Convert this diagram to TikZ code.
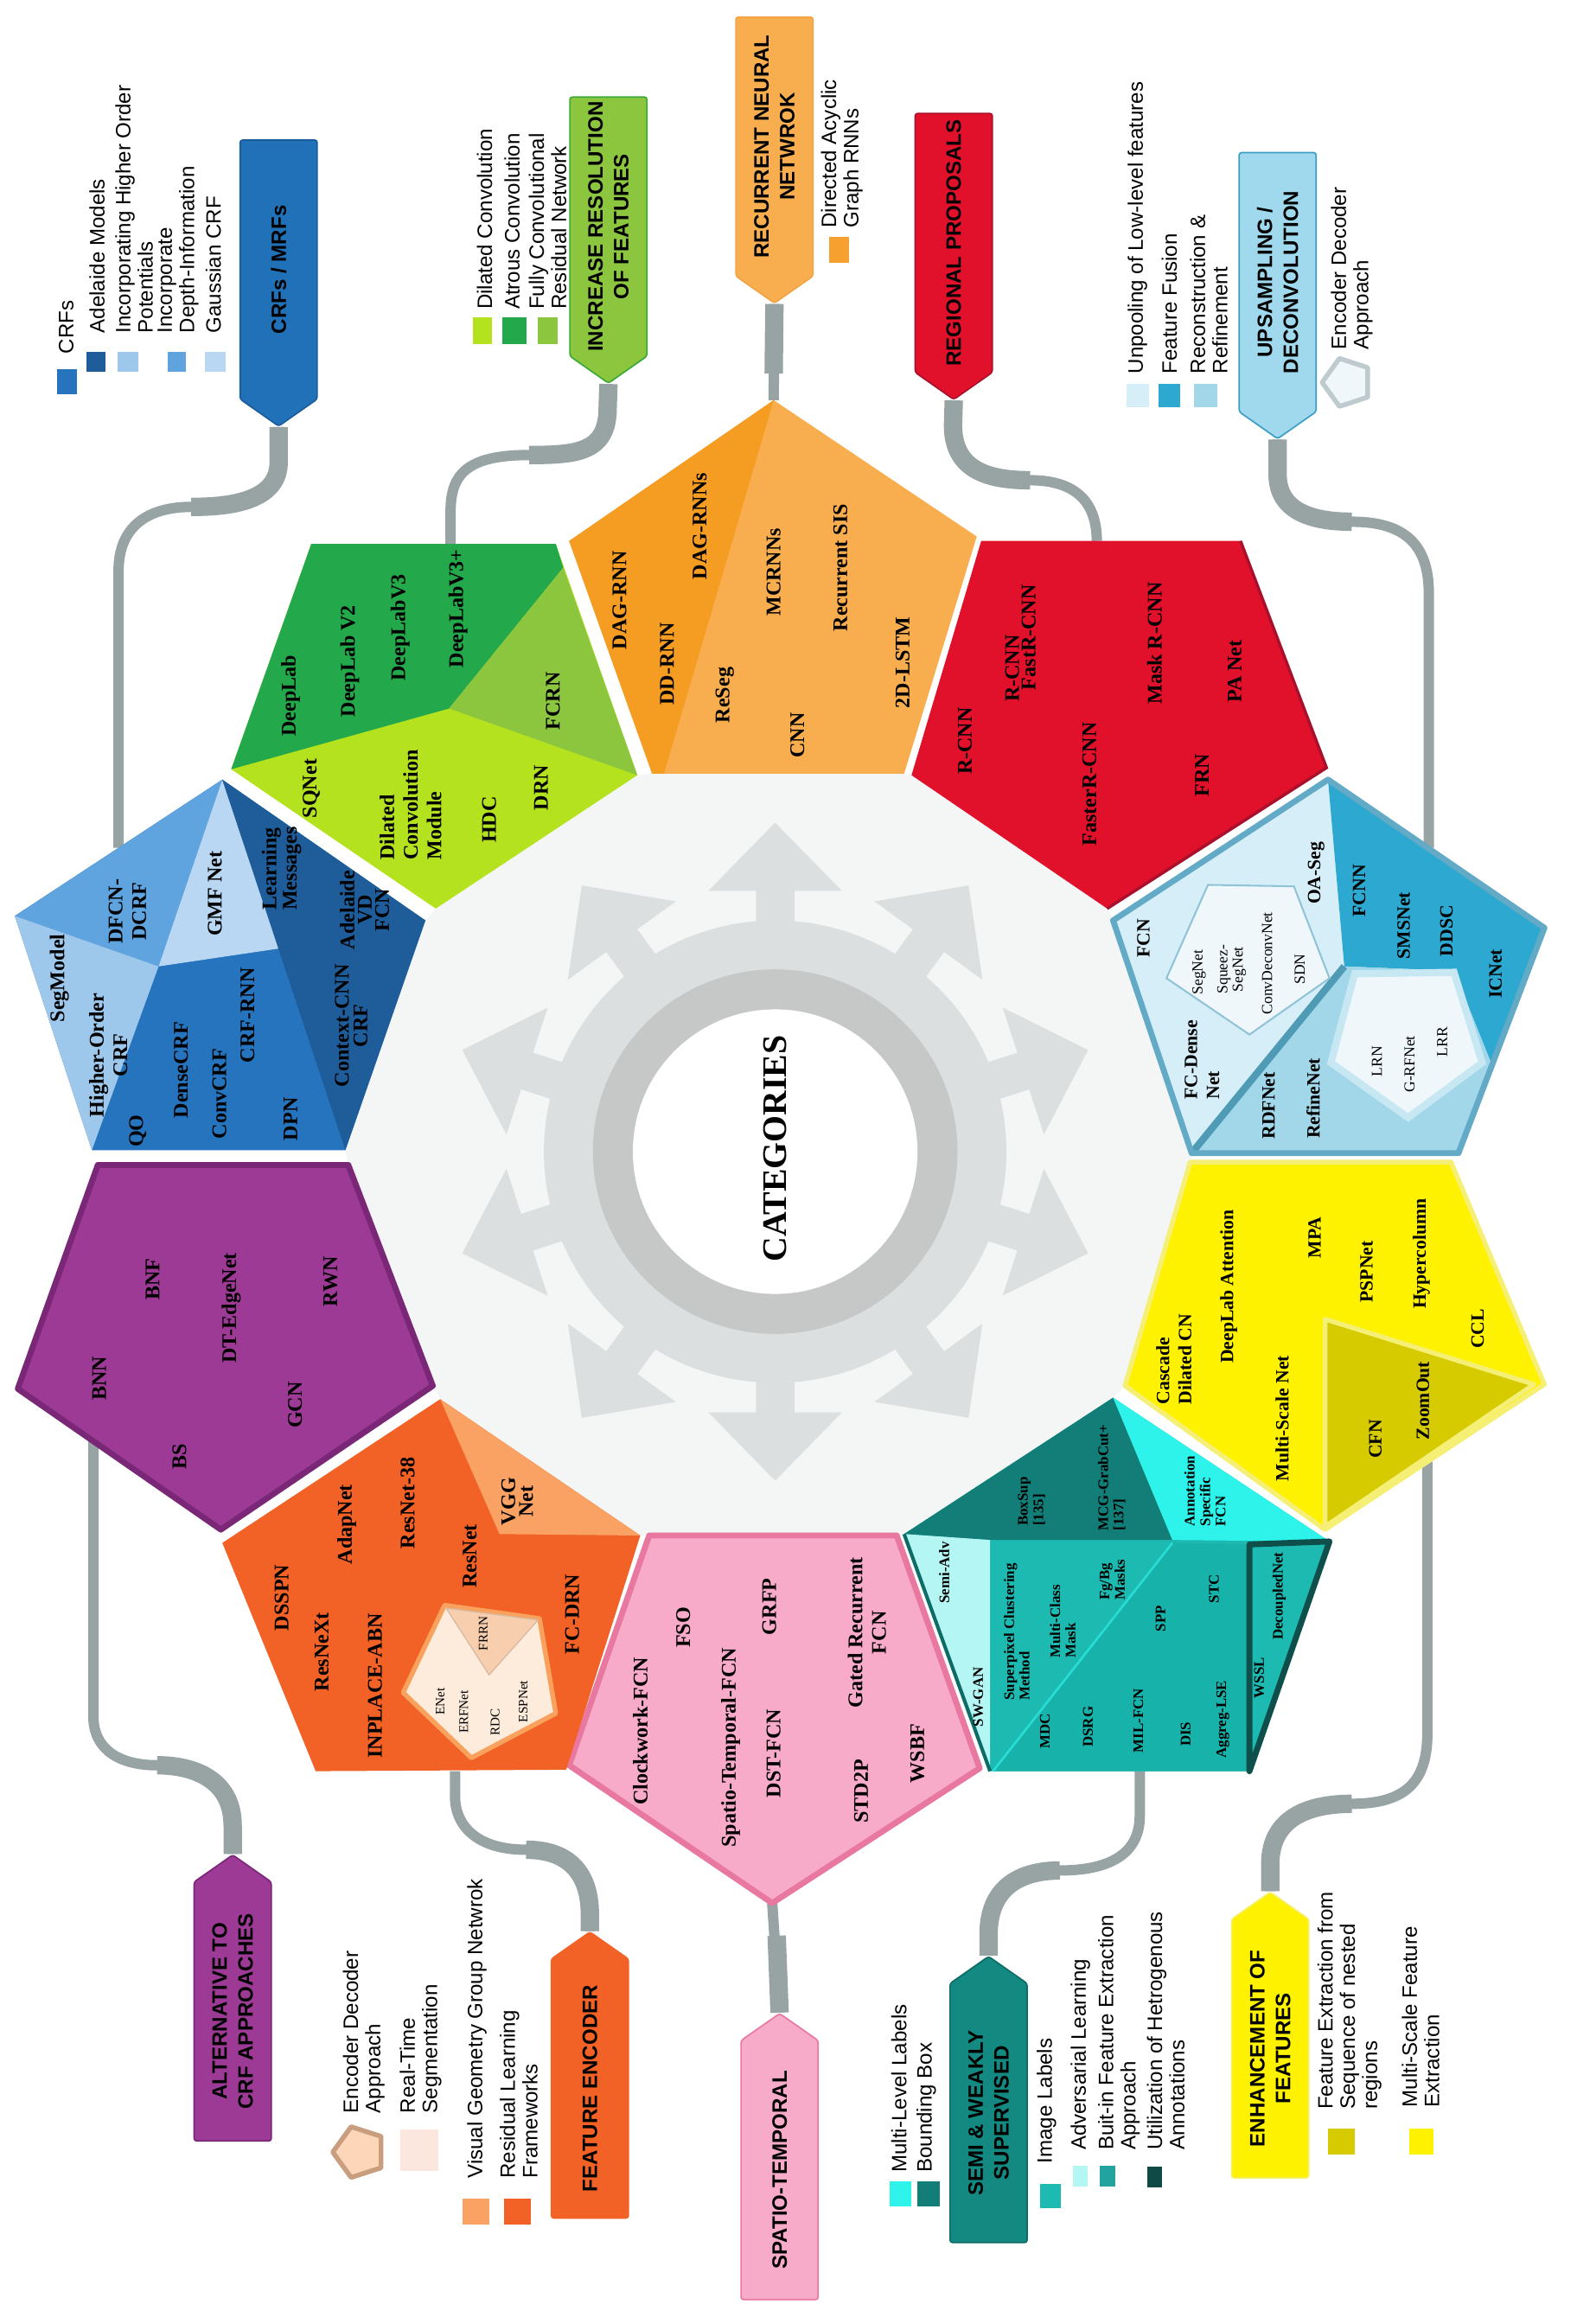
\documentclass[tikz,border=0pt]{standalone}
\usepackage{fontspec}
\setmainfont{Liberation Serif}
\newfontfamily\hsans{Liberation Sans}
\usetikzlibrary{shapes.symbols}

\definecolor{bggrey}{HTML}{F4F5F5}
\definecolor{gearlt}{HTML}{DCDFE0}
\definecolor{gearmd}{HTML}{C6C7C7}
\definecolor{wiregrey}{HTML}{98A3A4}
\definecolor{crfmid}{HTML}{2574BD}
\definecolor{crfdark}{HTML}{1E5D9A}
\definecolor{crftop}{HTML}{5FA3DF}
\definecolor{crfgmf}{HTML}{B9D7F2}
\definecolor{crfleft}{HTML}{9EC7EC}
\definecolor{crfhdr}{HTML}{2171B8}
\definecolor{crfhdrdk}{HTML}{1A5C9C}
\definecolor{grlime}{HTML}{B5E21F}
\definecolor{grdark}{HTML}{23A94B}
\definecolor{grmid}{HTML}{8CC63F}
\definecolor{grhdrdk}{HTML}{3AA935}
\definecolor{rnnlt}{HTML}{F8AE4E}
\definecolor{rnndk}{HTML}{F59C22}
\definecolor{rnnhdrdk}{HTML}{F2A445}
\definecolor{regred}{HTML}{E2112B}
\definecolor{regdk}{HTML}{A8102C}
\definecolor{upsl}{HTML}{D6EEF8}
\definecolor{upsd}{HTML}{2DA8D0}
\definecolor{upsm}{HTML}{A2D7EA}
\definecolor{upsin}{HTML}{EFF7FB}
\definecolor{upsbd}{HTML}{62AAC5}
\definecolor{upsline}{HTML}{4F9BB6}
\definecolor{upshdr}{HTML}{A0D9EE}
\definecolor{upshdrdk}{HTML}{3C9DC4}
\definecolor{enhy}{HTML}{FFF200}
\definecolor{enhdk}{HTML}{D6CB00}
\definecolor{enhbd}{HTML}{F5EF75}
\definecolor{semimain}{HTML}{1CBAB1}
\definecolor{semilow}{HTML}{17B2AA}
\definecolor{semidk}{HTML}{137D77}
\definecolor{semicy}{HTML}{2EF3EA}
\definecolor{semilt}{HTML}{B4F6F4}
\definecolor{semiline}{HTML}{0E4F4B}
\definecolor{semihdr}{HTML}{148981}
\definecolor{semihdrdk}{HTML}{0D6C66}
\definecolor{semibi}{HTML}{22A39F}
\definecolor{semiut}{HTML}{0F4A47}
\definecolor{spapink}{HTML}{F8AAC9}
\definecolor{spabd}{HTML}{E8789F}
\definecolor{femain}{HTML}{F26125}
\definecolor{felt}{HTML}{F9A263}
\definecolor{fein}{HTML}{FDEBDC}
\definecolor{feinbd}{HTML}{F8A25E}
\definecolor{fefrrn}{HTML}{F8CFAE}
\definecolor{fepale}{HTML}{FBE7DD}
\definecolor{feicon}{HTML}{FDD6BA}
\definecolor{feiconbd}{HTML}{C99E7E}
\definecolor{altp}{HTML}{9C3A95}
\definecolor{altbd}{HTML}{7A2777}

\tikzset{
  lbl/.style={rotate=90, inner sep=0pt, align=center,
    font=\bfseries\fontsize{10}{11.3}\selectfont},
  lbm/.style={lbl, font=\bfseries\fontsize{9}{10.6}\selectfont},
  lbt/.style={lbl, font=\bfseries\fontsize{7}{7.4}\selectfont},
  lbi/.style={lbl, font=\fontsize{7.3}{7.4}\selectfont},
  lbs/.style={lbl, font=\fontsize{6.3}{7}\selectfont},
  lgd/.style={rotate=90, anchor=west, inner sep=0pt, align=left,
    font=\hsans\fontsize{10}{10.7}\selectfont},
  hdr/.style={signal, rotate=90, line width=0.7pt, inner xsep=0pt, inner ysep=1pt,
    align=center, minimum width=48.25mm, minimum height=13mm,
    signal pointer angle=110, rounded corners=1.2pt,
    font=\hsans\bfseries\fontsize{10}{12.4}\selectfont},
  wire/.style={draw=wiregrey, line width=1.75mm},
  wirestub/.style={draw=wiregrey, line width=3.1mm},
}

\begin{document}
\begin{tikzpicture}[x=0.25mm, y=-0.25mm]
\useasboundingbox (0,0) rectangle (1064,1568);
\fill[white] (0,0) rectangle (1064,1568);

% centre of the wheel
\fill[bggrey] (440,522) -- (430,523) -- (294,613) -- (287,621) -- (233,776) -- (235,786)
  -- (292,935) -- (297,944) -- (432,1036) -- (438,1036) -- (605,1036) -- (610,1035)
  -- (751,943) -- (759,935) -- (803,784) -- (804,778) -- (751,621) -- (747,613)
  -- (615,523) -- (610,522) -- cycle;
\begin{scope}[shift={(523,777)}]
\foreach \a in {18,54,...,342}
  \fill[gearlt, rotate=\a] (140,-13) -- (176,-13) -- (176,-45) -- (222,0)
    -- (176,45) -- (176,13) -- (140,13) -- cycle;
\fill[gearlt] (0,0) circle (156);
\fill[gearmd] (0,0) circle (123);
\fill[white] (0,0) circle (96);
\end{scope}
\node[rotate=90, font=\bfseries\fontsize{16.5}{18}\selectfont] (cat) at (523,775) {CATEGORIES};

% headers
\node[hdr, signal to=west, anchor=east, fill=crfhdr, draw=crfhdrdk] (hcrf) at (188,94) {CRFs / MRFs};
\node[hdr, signal to=west, anchor=east, fill=grmid, draw=grhdrdk] (hinc) at (410.5,65) {INCREASE RESOLUTION\\OF FEATURES};
\node[hdr, signal to=west, anchor=east, fill=rnnlt, draw=rnnhdrdk] (hrnn) at (522.5,11) {RECURRENT NEURAL\\NETWROK};
\node[hdr, signal to=west, anchor=east, fill=regred, draw=regdk] (hreg) at (643.5,76) {REGIONAL PROPOSALS};
\node[hdr, signal to=west, anchor=east, fill=upshdr, draw=upshdrdk] (hups) at (862,102.5) {UPSAMPLING /\\DECONVOLUTION};
\node[hdr, signal to=east, anchor=west, fill=enhy, draw=enhbd] (henh) at (857,1470) {ENHANCEMENT OF\\FEATURES};
\node[hdr, signal to=east, anchor=west, fill=semihdr, draw=semihdrdk] (hsemi) at (667,1513.5) {SEMI \& WEAKLY\\SUPERVISED};
\node[hdr, signal to=east, anchor=west, fill=spapink, draw=spabd] (hspa) at (526,1552) {SPATIO-TEMPORAL};
\node[hdr, signal to=east, anchor=west, fill=femain, draw=femain] (hfe) at (398,1497) {FEATURE ENCODER};
\node[hdr, signal to=east, anchor=west, fill=altp, draw=altbd] (halt) at (157,1445) {ALTERNATIVE TO\\CRF APPROACHES};

% connectors
\coordinate (pcrf) at (80,572);
\coordinate (pinc) at (304,367);
\coordinate (prnn) at (522,270);
\coordinate (preg) at (740,365);
\coordinate (pups) at (964,572);
\coordinate (penh) at (963,986);
\coordinate (psemi) at (769,1195);
\coordinate (pspa) at (521,1284);
\coordinate (pfe) at (307,1195);
\coordinate (palt) at (63,972);
\draw[wire] (hcrf.west) -- (188,312) .. controls (188,340) and (150,342) .. (129,342)
  .. controls (100,342) and (80,355) .. (80,385) -- (pcrf);
\draw[wirestub] (hcrf.west) -- (188,312) .. controls (188,340) and (150,342) .. (129,342);
\draw[wire] (hinc.west) -- (410,275) .. controls (410,305) and (390,307) .. (357,307)
  .. controls (315,307) and (304,320) .. (304,345) -- (pinc);
\draw[wirestub] (hinc.west) -- (410,275) .. controls (410,305) and (390,307) .. (357,307);
\draw[wire] (hrnn.west) -- (prnn);
\draw[wirestub] (hrnn.west) -- (522,252);
\draw[wire] (hreg.west) -- (643,287) .. controls (643,318) and (668,324) .. (695,324)
  .. controls (725,324) and (740,338) .. (preg);
\draw[wirestub] (hreg.west) -- (643,287) .. controls (643,318) and (668,324) .. (695,324);
\draw[wire] (hups.west) -- (862,320) .. controls (862,345) and (885,352) .. (912,352)
  .. controls (945,352) and (964,365) .. (964,400) -- (pups);
\draw[wirestub] (hups.west) -- (862,320) .. controls (862,345) and (885,352) .. (912,352);
\draw[wire] (henh.east) -- (857,1258) .. controls (857,1225) and (885,1217) .. (912,1217)
  .. controls (945,1217) and (963,1205) .. (963,1170) -- (penh);
\draw[wirestub] (henh.east) -- (857,1258) .. controls (857,1225) and (885,1217) .. (912,1217);
\draw[wire] (hsemi.east) -- (667,1305) .. controls (667,1272) and (690,1262) .. (715,1262)
  .. controls (750,1262) and (769,1250) .. (769,1225) -- (psemi);
\draw[wirestub] (hsemi.east) -- (667,1305) .. controls (667,1272) and (690,1262) .. (715,1262);
\draw[wire] (hspa.east) -- (pspa);
\draw[wirestub] (hspa.east) -- (524,1306);
\draw[wire] (hfe.east) -- (398,1292) .. controls (398,1260) and (380,1248) .. (355,1248)
  .. controls (322,1248) and (307,1232) .. (307,1212) -- (pfe);
\draw[wirestub] (hfe.east) -- (398,1292) .. controls (398,1260) and (380,1248) .. (355,1248);
\draw[wire] (halt.east) -- (157,1232) .. controls (157,1200) and (130,1191) .. (106,1191)
  .. controls (80,1191) and (63,1180) .. (63,1158) -- (palt);
\draw[wirestub] (halt.east) -- (157,1232) .. controls (157,1200) and (130,1191) .. (106,1191);

% recurrent neural network
\fill[rnnlt] (522,270) -- (659,362) -- (610,522) -- (440,522) -- (384,365) -- cycle;
\fill[rnndk] (522,270) -- (384,365) -- (440,522) -- (448,522) -- cycle;
\node[lbl] (dagrnn) at (418,405) {DAG-RNN};
\node[lbl] (dagrnns) at (472,355) {DAG-RNNs};
\node[lbl] (ddrnn) at (450,448) {DD-RNN};
\node[lbl] (reseg) at (489,469) {ReSeg};
\node[lbl] (mcrnns) at (522,386) {MCRNNs};
\node[lbl] (cnn) at (538,496) {CNN};
\node[lbl] (rsis) at (567,383) {Recurrent SIS};
\node[lbl] (lstm) at (609,447) {2D-LSTM};

% regional proposals
\fill[regred] (662,365) -- (837,365) -- (895,518) -- (747,613) -- (615,523) -- cycle;
\draw[regdk, line width=0.5mm] (837,365) -- (895,518) -- (747,613);
\node[lbl] (rcnn) at (651,500) {R-CNN};
\node[lbl] (rcnnb) at (683,451) {R-CNN};
\node[lbl] (fastrcnn) at (694,430) {FastR-CNN};
\node[lbl] (maskrcnn) at (779,434) {Mask R-CNN};
\node[lbl] (panet) at (833,453) {PA Net};
\node[lbl] (fasterrcnn) at (735,529) {FasterR-CNN};
\node[lbl] (frn) at (811,523) {FRN};

% upsampling / deconvolution
\fill[upsl] (896,526) -- (1042,626) -- (984,778) -- (804,778) -- (751,621) -- cycle;
\fill[upsd] (896,526) -- (1042,626) -- (1006,717) -- (981,655) -- (907,652) -- cycle;
\fill[upsm] (907,652) -- (981,655) -- (1006,717) -- (984,778) -- (804,778) -- cycle;
\draw[upsline, line width=1.2mm] (907,652) -- (804,778);
\filldraw[fill=upsin, draw=upsbd!70, line width=0.3mm] (815,597) -- (873,598) -- (897,660) -- (843,698) -- (787,660) -- cycle;
\filldraw[fill=upsin, draw=upsm!60, line width=1.2mm] (914,657) -- (981,656) -- (1000,717) -- (950,754) -- (898,717) -- cycle;
\draw[upsbd, line width=1mm, line join=round] (896,526) -- (1042,626) -- (984,778) -- (804,778) -- (751,621) -- cycle;
\node[lbm] (fcn) at (771.5,633) {FCN};
\node[lbm] (oaseg) at (888,589) {OA-Seg};
\node[lbm, align=left] (fcdense) at (811,715) {FC-Dense\\Net};
\node[lbi] (segnet) at (809,656) {SegNet};
\node[lbi] (squeez) at (831,654) {Squeez-\\SegNet};
\node[lbi] (convdeconv) at (855,650) {ConvDeconvNet};
\node[lbi] (sdn) at (877,654) {SDN};
\node[lbm] (fcnn) at (917,601) {FCNN};
\node[lbm] (smsnet) at (947,624.5) {SMSNet};
\node[lbm] (ddsc) at (976,628) {DDSC};
\node[lbm] (icnet) at (1009,657) {ICNet};
\node[lbm] (rdfnet) at (856,746) {RDFNet};
\node[lbm] (refinenet) at (886,741) {RefineNet};
\node[lbi] (lrn) at (929,716) {LRN};
\node[lbi] (grfnet) at (951,718) {G-RFNet};
\node[lbi] (lrr) at (973,703) {LRR};

% enhancement of features
\filldraw[fill=enhy, draw=enhbd, line width=0.8mm, line join=round] (803,784) -- (979,784) -- (1042,934) -- (894,1032) -- (759,935) -- cycle;
\filldraw[fill=enhdk, draw=enhbd, line width=0.8mm, line join=round] (894,890) -- (1035,934) -- (894,1030) -- cycle;
\node[lbm, align=left] (cascade) at (792,917) {Cascade\\Dilated CN};
\node[lbm] (dlatt) at (829,868) {DeepLab Attention};
\node[lbm] (mpa) at (887,835) {MPA};
\node[lbm] (pspnet) at (922,858) {PSPNet};
\node[lbm] (hypercol) at (959,846) {Hypercolumn};
\node[lbm] (ccl) at (997,896.5) {CCL};
\node[lbm] (msnet) at (865,957) {Multi-Scale Net};
\node[lbm] (cfn) at (928,971) {CFN};
\node[lbm] (zoomout) at (960,945) {ZoomOut};

% semi and weakly supervised
\fill[semimain] (751,943) -- (897,1040) -- (843,1195) -- (668,1195) -- (610,1035) -- cycle;
\fill[semilow] (791,1041) -- (843,1042) -- (843,1195) -- (670,1195) -- cycle;
\fill[semidk] (751,943) -- (610,1035) -- (668,1039) -- (791,1039) -- cycle;
\fill[semicy] (751,943) -- (791,1039) -- (897,1040) -- cycle;
\fill[semilt] (610,1035) -- (668,1039) -- (668,1195) -- cycle;
\draw[semicy!60!semimain, line width=0.4mm] (791,1041) -- (670,1195);
\draw[semiline, line width=1mm, line join=round] (843,1042) -- (897,1040) -- (843,1195) -- cycle;
\draw[semihdrdk, line width=0.6mm] (610,1035) -- (668,1195);
\node[lbt] (semiadv) at (637,1061) {Semi-Adv};
\node[lbt] (swgan) at (660,1145) {SW-GAN};
\node[lbt, align=left] (superpix) at (686,1101) {Superpixel Clustering\\Method};
\node[lbt, align=left] (multiclass) at (717,1094) {Multi-Class\\Mask};
\node[lbt, align=left] (fgbg) at (750.5,1066) {Fg/Bg\\Masks};
\node[lbt, align=left] (boxsup) at (696,1013) {BoxSup\\{[135]}};
\node[lbt, align=left] (mcg) at (750,997) {MCG-GrabCut+\\{[137]}};
\node[lbt, align=left] (annot) at (813,1006) {Annotation\\Specific\\FCN};
\node[lbt] (spp) at (783,1092) {SPP};
\node[lbt] (stc) at (819,1072) {STC};
\node[lbt] (decoupled) at (863,1077) {DecoupledNet};
\node[lbt] (wssl) at (849.5,1132) {WSSL};
\node[lbt] (mdc) at (705,1168) {MDC};
\node[lbt] (dsrg) at (734,1165) {DSRG};
\node[lbt] (milfcn) at (768,1161) {MIL-FCN};
\node[lbt] (dis) at (800,1170) {DIS};
\node[lbt] (aggreg) at (825,1160) {Aggreg-LSE};

% spatio-temporal
\filldraw[fill=spapink, draw=spabd, line width=1mm, line join=round] (438,1036) -- (605,1036) -- (661,1193) -- (521,1284) -- (384,1191) -- cycle;
\node[lbl] (clockwork) at (432,1168) {Clockwork-FCN};
\node[lbl] (fso) at (461,1098) {FSO};
\node[lbl] (stfcn) at (493,1179) {Spatio-Temporal-FCN};
\node[lbl] (dstfcn) at (522,1183) {DST-FCN};
\node[lbl] (grfp) at (519,1084) {GRFP};
\node[lbl] (gated) at (585,1101.5) {Gated Recurrent\\FCN};
\node[lbl] (std2p) at (581,1208.5) {STD2P};
\node[lbl] (wsbf) at (619,1183) {WSBF};

% feature encoder
\fill[femain] (297,944) -- (432,1036) -- (382,1194) -- (213,1195) -- (150,1041) -- cycle;
\fill[felt] (297,944) -- (432,1036) -- (337,1035) -- cycle;
\filldraw[fill=fein, draw=feinbd, line width=0.8mm, line join=round] (272,1142) -- (300,1083) -- (364,1092) -- (375,1156) -- (318,1186) -- cycle;
\filldraw[fill=fefrrn, draw=feiconbd!70, line width=0.2mm] (301,1085) -- (363,1093) -- (330,1130) -- cycle;
\node[lbl] (dsspn) at (190,1078) {DSSPN};
\node[lbl] (resnext) at (217,1114.5) {ResNeXt};
\node[lbl] (adapnet) at (234,1028.5) {AdapNet};
\node[lbl] (inplace) at (253,1137.5) {INPLACE-ABN};
\node[lbl] (resnet38) at (275,1014) {ResNet-38};
\node[lbl] (resnet) at (317,1050) {ResNet};
\node[lbl] (fcdrn) at (386,1089) {FC-DRN};
\node[lbl, font=\bfseries\fontsize{10}{8.5}\selectfont] (vgg) at (349,1013) {VGG\\Net};
\node[lbs] (frrn) at (326,1102) {FRRN};
\node[lbs] (enet) at (297,1148) {ENet};
\node[lbs] (erfnet) at (313,1155) {ERFNet};
\node[lbs] (rdc) at (334,1162) {RDC};
\node[lbs] (espnet) at (353,1148) {ESPNet};

% alternative to crf approaches
\filldraw[fill=altp, draw=altbd, line width=1mm, line join=round] (66,786) -- (235,786) -- (292,935) -- (149,1032) -- (12,937) -- cycle;
\node[lbl] (bnf) at (103,863) {BNF};
\node[lbl] (dtedge) at (156,882.5) {DT-EdgeNet};
\node[lbl] (rwn) at (223,864.5) {RWN};
\node[lbl] (bnn) at (67,930) {BNN};
\node[lbl] (gcn) at (199,948) {GCN};
\node[lbl] (bs) at (121,983) {BS};

% crfs / mrfs
\fill[crfmid] (150,526) -- (287,621) -- (233,776) -- (62,776) -- (10,618) -- cycle;
\fill[crftop] (150,526) -- (10,618) -- (107,652) -- cycle;
\fill[crfgmf] (150,526) -- (107,652) -- (188,640) -- cycle;
\fill[crfleft] (10,618) -- (107,652) -- (62,776) -- cycle;
\fill[crfdark] (150,526) -- (287,621) -- (233,776) -- cycle;
\node[lbl] (segmodel) at (40,660) {SegModel};
\node[lbl] (higher) at (73,712) {Higher-Order\\CRF};
\node[lbl] (qo) at (93,763) {QO};
\node[lbl] (densecrf) at (122,722) {DenseCRF};
\node[lbl] (convcrf) at (148,738) {ConvCRF};
\node[lbl] (crfrnn) at (167,685) {CRF-RNN};
\node[lbl] (dpn) at (196,755) {DPN};
\node[lbl] (dfcn) at (86,615) {DFCN-\\DCRF};
\node[lbl] (gmf) at (145,603) {GMF Net};
\node[lbl, font=\bfseries\fontsize{10}{8.5}\selectfont] (learning) at (190,586) {Learning\\Messages};
\node[lbl, font=\bfseries\fontsize{10}{8.3}\selectfont] (adelaide) at (246,614) {Adelaide\\VD\\FCN};
\node[lbl, font=\bfseries\fontsize{10}{9}\selectfont] (context) at (237,692) {Context-CNN\\CRF};

% increase resolution of features
\fill[grlime] (210,367) -- (375,367) -- (430,523) -- (294,613) -- (156,519) -- cycle;
\fill[grdark] (210,367) -- (375,367) -- (380,383) -- (303,478) -- (156,519) -- cycle;
\fill[grmid] (380,383) -- (430,523) -- (303,478) -- cycle;
\node[lbl] (deeplab) at (196,469.5) {DeepLab};
\node[lbl] (deeplabv2) at (236,446) {DeepLab V2};
\node[lbl] (deeplabv3) at (270,423.5) {DeepLabV3};
\node[lbl] (deeplabv3p) at (309,410.5) {DeepLabV3+};
\node[lbl] (sqnet) at (210,532) {SQNet};
\node[lbl, align=left] (dilconv) at (277,543) {Dilated\\Convolution\\Module};
\node[lbl] (hdc) at (330,553) {HDC};
\node[lbl] (fcrn) at (373,473) {FCRN};
\node[lbl] (drn) at (365,531.5) {DRN};

% legends
\fill[crfmid] (38.5,249) rectangle (52,266);
\node[lgd] (lgcrf) at (44.6,239) {CRFs};
\fill[crfdark] (58.4,237.5) rectangle (71.2,251);
\node[lgd] (lgadel) at (65.5,225) {Adelaide Models};
\fill[crfleft] (79.6,237.5) rectangle (93.2,251);
\node[lgd] (lghigh) at (90.5,225) {Incorporating Higher Order\\Potentials};
\fill[crftop] (113,237.5) rectangle (125.5,251);
\node[lgd] (lgdepth) at (120.2,225) {Incorporate\\Depth-Information};
\fill[crfgmf] (138.4,237.5) rectangle (152,251);
\node[lgd] (lggauss) at (144,225) {Gaussian CRF};

\fill[grlime] (319,214) rectangle (332,232);
\node[lgd] (lgdil) at (327,209) {Dilated Convolution};
\fill[grdark] (339,214) rectangle (355,232);
\node[lgd] (lgatr) at (345.5,209) {Atrous Convolution};
\fill[grmid] (362.6,214) rectangle (376.2,232);
\node[lgd] (lgres) at (369.5,209) {Fully Convolutional\\Residual Network};

\fill[rnndk!70!rnnlt] (559.4,160) rectangle (573,177.5);
\node[lgd] (lgdag) at (568,154) {Directed Acyclic\\Graph RNNs};

\fill[upsl] (760,259) rectangle (775,275);
\node[lgd] (lgunp) at (767.5,252.5) {Unpooling of Low-level features};
\fill[upsd] (781.7,259) rectangle (796.4,275);
\node[lgd] (lgfus) at (789,252.5) {Feature Fusion};
\fill[upsm] (805.4,259) rectangle (821.3,275);
\node[lgd] (lgrec) at (815.6,252.5) {Reconstruction \&\\Refinement};
\filldraw[fill=upsin, draw=gearmd!80!upsm, line width=0.8mm, line join=round] (892,258) -- (903.7,241.8) -- (922.7,248) -- (922.7,268) -- (903.7,274.2) -- cycle;
\node[lgd] (lgencu) at (912,236) {Encoder Decoder\\Approach};

\fill[enhdk] (896,1436) rectangle (914,1453.5);
\node[lgd] (lgnest) at (910.5,1423.5) {Feature Extraction from\\Sequence of nested\\regions};
\fill[enhy] (951,1436) rectangle (967,1453.5);
\node[lgd] (lgmsf) at (958.5,1422) {Multi-Scale Feature\\Extraction};

\fill[semicy] (600,1472) rectangle (615,1488.5);
\node[lgd] (lgmll) at (606.5,1466) {Multi-Level Labels};
\fill[semidk] (619,1472) rectangle (634,1488.5);
\node[lgd] (lgbb) at (625,1466) {Bounding Box};
\fill[semimain] (702,1473.5) rectangle (716,1490);
\node[lgd] (lgimg) at (706,1460) {Image Labels};
\fill[semilt] (724,1461) rectangle (734,1475);
\node[lgd] (lgadv) at (729,1451) {Adversarial Learning};
\fill[semibi] (742,1461) rectangle (752.3,1475);
\node[lgd] (lgbuit) at (755,1451) {Buit-in Feature Extraction\\Approach};
\fill[semiut] (773.8,1462) rectangle (784,1476);
\node[lgd] (lgutil) at (786.5,1451) {Utilization of Hetrogenous\\Annotations};

\filldraw[fill=feicon, draw=feiconbd, line width=0.8mm, line join=round] (224.5,1452) -- (236.9,1434.9) -- (257.1,1441.4) -- (257.1,1462.6) -- (236.9,1469.1) -- cycle;
\node[lgd] (lgence) at (245.5,1426) {Encoder Decoder\\Approach};
\fill[fepale] (270,1437) rectangle (296,1465);
\node[lgd] (lgrt) at (283.8,1426) {Real-Time\\Segmentation};
\fill[felt] (312,1483.5) rectangle (330,1501);
\node[lgd] (lgvgg) at (321.8,1470) {Visual Geometry Group Netwrok};
\fill[femain] (340,1483.5) rectangle (358,1501);
\node[lgd] (lgrlf) at (350,1470) {Residual Learning\\Frameworks};
\end{tikzpicture}
\end{document}
